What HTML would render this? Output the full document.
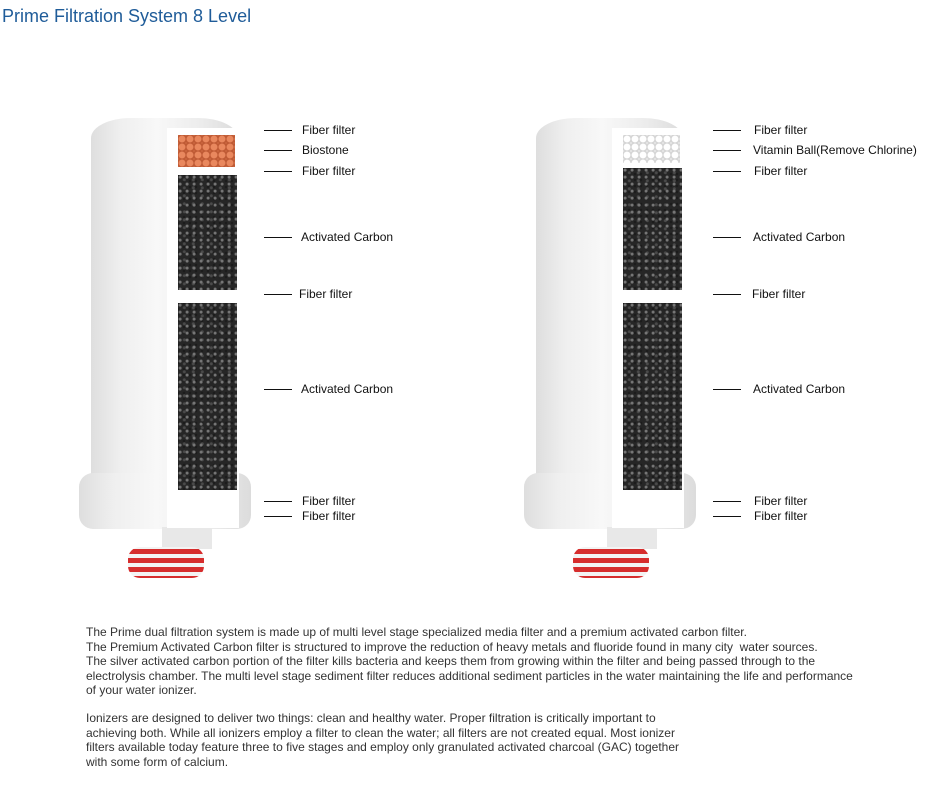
<!DOCTYPE html>
<html><head><meta charset="utf-8"><style>
body{margin:0;width:940px;height:785px;background:#fff;position:relative;overflow:hidden;font-family:"Liberation Sans",Arial,sans-serif}
.a{position:absolute}
h1{position:absolute;left:2px;top:6px;margin:0;font-size:18px;font-weight:normal;color:#1f5c99}
.body{background:linear-gradient(90deg,#dedede 0%,#efefef 20%,#f8f8f8 45%,#ececec 75%,#dcdcdc 100%)}
.carbon{background:#141414;background-image:radial-gradient(circle at 30% 30%,#777 0 1px,transparent 2px),radial-gradient(circle at 70% 60%,#4a4a4a 0 1px,transparent 2px),radial-gradient(circle at 50% 50%,#262626 0 3px,transparent 4px);background-size:7px 7px,9px 8px,6px 6px}
.lbl{position:absolute;font-size:12px;color:#111;white-space:nowrap}
.ln{position:absolute;height:1px;background:#111;width:28px}
p{position:absolute;left:86px;margin:0;font-size:12px;line-height:14.6px;color:#333;width:800px}
.cap{position:absolute;left:128px;top:547px;width:76px;height:31px;border-radius:12px;background:repeating-linear-gradient(180deg,#f3f3f3 0 2px,#d62d2d 2px 7px,#f3f3f3 7px 9px)}
</style></head><body>
<h1>Prime Filtration System 8 Level</h1>

<div class="a" style="left:0;top:0">
 <div class="a body" style="left:91px;top:118px;width:147px;height:380px;border-radius:40px 40px 0 0/20px 20px 0 0"></div>
 <div class="a body" style="left:79px;top:473px;width:172px;height:56px;border-radius:14px"></div>
 <div class="a" style="left:162px;top:527px;width:50px;height:22px;background:#e8e8e8"></div>
 <div class="cap"></div>
 <div class="a" style="left:167px;top:128px;width:72px;height:400px;background:#fff"></div>
 <div class="a" style="left:178px;top:135px;width:57px;height:32px;background:radial-gradient(circle,#e9885e 0 3px,#b8532e 4px,transparent 5px) 0 0/8px 8px,#c9653e"></div>
 <div class="a carbon" style="left:178px;top:175px;width:59px;height:115px"></div>
 <div class="a carbon" style="left:178px;top:303px;width:59px;height:187px"></div>
</div>
<div class="a" style="left:445px;top:0">
 <div class="a body" style="left:91px;top:118px;width:147px;height:380px;border-radius:40px 40px 0 0/20px 20px 0 0"></div>
 <div class="a body" style="left:79px;top:473px;width:172px;height:56px;border-radius:14px"></div>
 <div class="a" style="left:162px;top:527px;width:50px;height:22px;background:#e8e8e8"></div>
 <div class="cap"></div>
 <div class="a" style="left:167px;top:128px;width:72px;height:400px;background:#fff"></div>
 <div class="a" style="left:178px;top:135px;width:57px;height:28px;background:radial-gradient(circle,#fff 0 3px,#ccc 4px,transparent 5px) 0 0/8px 8px,#e6e6e6"></div>
 <div class="a carbon" style="left:178px;top:168px;width:59px;height:122px"></div>
 <div class="a carbon" style="left:178px;top:303px;width:59px;height:187px"></div>
</div>

<div class="ln" style="left:264px;top:130px"></div><div class="lbl" style="left:302px;top:123px">Fiber filter</div>
<div class="ln" style="left:264px;top:150px"></div><div class="lbl" style="left:302px;top:143px">Biostone</div>
<div class="ln" style="left:264px;top:171px"></div><div class="lbl" style="left:302px;top:164px">Fiber filter</div>
<div class="ln" style="left:264px;top:237px"></div><div class="lbl" style="left:301px;top:230px">Activated Carbon</div>
<div class="ln" style="left:264px;top:294px"></div><div class="lbl" style="left:299px;top:287px">Fiber filter</div>
<div class="ln" style="left:264px;top:389px"></div><div class="lbl" style="left:301px;top:382px">Activated Carbon</div>
<div class="ln" style="left:264px;top:501px"></div><div class="lbl" style="left:302px;top:494px">Fiber filter</div>
<div class="ln" style="left:264px;top:516px"></div><div class="lbl" style="left:302px;top:509px">Fiber filter</div>
<div class="ln" style="left:713px;top:130px"></div><div class="lbl" style="left:754px;top:123px">Fiber filter</div>
<div class="ln" style="left:713px;top:150px"></div><div class="lbl" style="left:753px;top:143px">Vitamin Ball(Remove Chlorine)</div>
<div class="ln" style="left:713px;top:171px"></div><div class="lbl" style="left:754px;top:164px">Fiber filter</div>
<div class="ln" style="left:713px;top:237px"></div><div class="lbl" style="left:753px;top:230px">Activated Carbon</div>
<div class="ln" style="left:713px;top:294px"></div><div class="lbl" style="left:752px;top:287px">Fiber filter</div>
<div class="ln" style="left:713px;top:389px"></div><div class="lbl" style="left:753px;top:382px">Activated Carbon</div>
<div class="ln" style="left:713px;top:501px"></div><div class="lbl" style="left:754px;top:494px">Fiber filter</div>
<div class="ln" style="left:713px;top:516px"></div><div class="lbl" style="left:754px;top:509px">Fiber filter</div>

<p style="top:625px">The Prime dual filtration system is made up of multi level stage specialized media filter and a premium activated carbon filter.<br>The Premium Activated Carbon filter is structured to improve the reduction of heavy metals and fluoride found in many city&nbsp; water sources.<br>The silver activated carbon portion of the filter kills bacteria and keeps them from growing within the filter and being passed through to the<br>electrolysis chamber. The multi level stage sediment filter reduces additional sediment particles in the water maintaining the life and performance<br>of your water ionizer.</p>
<p style="top:711px">Ionizers are designed to deliver two things: clean and healthy water. Proper filtration is critically important to<br>achieving both. While all ionizers employ a filter to clean the water; all filters are not created equal. Most ionizer<br>filters available today feature three to five stages and employ only granulated activated charcoal (GAC) together<br>with some form of calcium.</p>
</body></html>
